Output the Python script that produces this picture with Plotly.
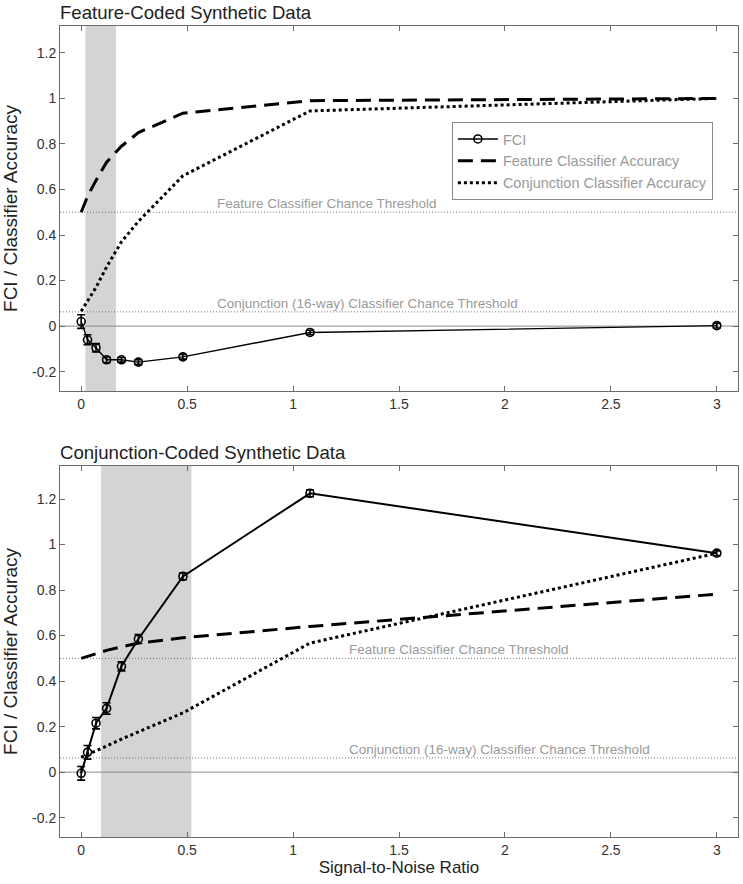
import plotly.graph_objects as go
from plotly.subplots import make_subplots

# ---- data ----
snr = [0, 0.03, 0.07, 0.12, 0.19, 0.27, 0.48, 1.08, 3.0]

feat_fci = [0.02, -0.06, -0.095, -0.148, -0.148, -0.158, -0.135, -0.028, 0.002]
feat_fci_err = [0.03, 0.022, 0.018, 0.012, 0.01, 0.01, 0.01, 0.01, 0.01]
feat_feature_acc = [0.5, 0.57, 0.64, 0.72, 0.79, 0.85, 0.935, 0.99, 1.0]
feat_conj_acc = [0.065, 0.11, 0.17, 0.26, 0.37, 0.46, 0.66, 0.945, 1.0]

conj_fci = [-0.005, 0.087, 0.215, 0.28, 0.465, 0.585, 0.86, 1.225, 0.962]
conj_fci_err = [0.03, 0.03, 0.025, 0.025, 0.02, 0.02, 0.015, 0.015, 0.01]
conj_feature_acc = [0.5, 0.51, 0.52, 0.535, 0.55, 0.567, 0.59, 0.64, 0.782]
conj_conj_acc = [0.065, 0.08, 0.093, 0.115, 0.145, 0.177, 0.26, 0.567, 0.962]

feature_chance = 0.5
conj_chance = 0.0625

shade_top = [0.02, 0.164]
shade_bottom = [0.094, 0.52]

panel_titles = ["Feature-Coded Synthetic Data", "Conjunction-Coded Synthetic Data"]
x_ticks = [0, 0.5, 1, 1.5, 2, 2.5, 3]
x_ticktext = ["0", "0.5", "1", "1.5", "2", "2.5", "3"]
y_ticks = [-0.2, 0, 0.2, 0.4, 0.6, 0.8, 1.0, 1.2]
y_ticktext = ["-0.2", "0", "0.2", "0.4", "0.6", "0.8", "1", "1.2"]
legend_names = ["FCI", "Feature Classifier Accuracy", "Conjunction Classifier Accuracy"]
chance_labels = ["Feature Classifier Chance Threshold", "Conjunction (16-way) Classifier Chance Threshold"]

FONT = "Liberation Sans, Arial, sans-serif"
AXIS_COLOR = "#6b6b6b"
TEXT_GRAY = "#9a9a9a"

fig = make_subplots(rows=2, cols=1, vertical_spacing=0.09)

H = 884
mt, mb = 25, 47
plot_h = H - mt - mb
def dom(top_px, bot_px):
    return [(H - mb - bot_px) / plot_h, (H - mb - top_px) / plot_h]

panels = [
    dict(row=1, fci=feat_fci, err=feat_fci_err, fa=feat_feature_acc, ca=feat_conj_acc,
         shade=shade_top, yr=[-0.285, 1.318], dom=dom(26, 391), lx=0.633, show=True, fw=1.4),
    dict(row=2, fci=conj_fci, err=conj_fci_err, fa=conj_feature_acc, ca=conj_conj_acc,
         shade=shade_bottom, yr=[-0.285, 1.345], dom=dom(466, 837), lx=1.256, show=False, fw=2),
]

for p in panels:
    r = p["row"]
    fig.add_trace(go.Scatter(
        x=snr, y=p["fa"], mode="lines", name=legend_names[1],
        line=dict(color="black", width=3, dash="15px,8px"),
        showlegend=p["show"], legendrank=2), row=r, col=1)
    fig.add_trace(go.Scatter(
        x=snr, y=p["ca"], mode="lines", name=legend_names[2],
        line=dict(color="black", width=3, dash="3px,3px"),
        showlegend=p["show"], legendrank=3), row=r, col=1)
    fig.add_trace(go.Scatter(
        x=snr, y=p["fci"], mode="lines+markers", name=legend_names[0],
        line=dict(color="black", width=p["fw"]),
        marker=dict(symbol="circle-open", size=8, color="black", line=dict(width=1.6)),
        error_y=dict(type="data", array=p["err"], visible=True, color="black",
                     thickness=1.6, width=4),
        showlegend=p["show"], legendrank=1), row=r, col=1)

    xref = "x" if r == 1 else "x2"
    yref = "y" if r == 1 else "y2"
    fig.add_shape(type="rect", xref=xref, yref=yref + " domain",
                  x0=p["shade"][0], x1=p["shade"][1], y0=0, y1=1,
                  fillcolor="#d3d4d6", line_width=0, layer="below")
    fig.add_shape(type="line", xref=xref + " domain", yref=yref, x0=0, x1=1, y0=0, y1=0,
                  line=dict(color="#8a8a8a", width=1), layer="below")
    for yv in (feature_chance, conj_chance):
        fig.add_shape(type="line", xref=xref + " domain", yref=yref, x0=0, x1=1, y0=yv, y1=yv,
                      line=dict(color="#777777", width=1, dash="1px,2px"), layer="below")
    fig.add_annotation(x=p["lx"], y=feature_chance, xref=xref, yref=yref, text=chance_labels[0],
                       showarrow=False, xanchor="left", yanchor="bottom", yshift=-1,
                       font=dict(size=13.5, color=TEXT_GRAY, family=FONT))
    fig.add_annotation(x=p["lx"], y=conj_chance, xref=xref, yref=yref, text=chance_labels[1],
                       showarrow=False, xanchor="left", yanchor="bottom", yshift=-1,
                       font=dict(size=13.5, color=TEXT_GRAY, family=FONT))
    fig.add_annotation(x=0, y=1, xref=xref + " domain", yref=yref + " domain", text=panel_titles[r - 1],
                       showarrow=False, xanchor="left", yanchor="bottom", yshift=1, xshift=-2,
                       font=dict(size=18.6, color="#222222", family=FONT))

    fig.update_xaxes(row=r, col=1, range=[-0.1, 3.1], tickvals=x_ticks, ticktext=x_ticktext,
                     ticks="inside", ticklen=5, tickcolor=AXIS_COLOR, showline=True,
                     linecolor=AXIS_COLOR, linewidth=1, mirror="ticks", showgrid=False,
                     zeroline=False, automargin=False,
                     tickfont=dict(size=14, color="#333333", family=FONT))
    fig.update_yaxes(row=r, col=1, range=p["yr"], domain=p["dom"], tickvals=y_ticks, ticktext=y_ticktext,
                     ticks="inside", ticklen=5, tickcolor=AXIS_COLOR, showline=True,
                     linecolor=AXIS_COLOR, linewidth=1, mirror="ticks", showgrid=False,
                     zeroline=False, automargin=False,
                     tickfont=dict(size=14, color="#333333", family=FONT),
                     title=dict(text="FCI / Classifier Accuracy", standoff=10,
                                font=dict(size=19, color="#222222", family=FONT)))

fig.update_xaxes(row=2, col=1, title=dict(text="Signal-to-Noise Ratio", standoff=2,
                                          font=dict(size=17, color="#222222", family=FONT)))

fig.update_layout(
    width=743, height=884,
    margin=dict(l=60, r=5, t=mt, b=mb, autoexpand=False),
    paper_bgcolor="white", plot_bgcolor="white",
    font=dict(family=FONT),
    legend=dict(x=0.578, y=0.8805, xanchor="left", yanchor="top",
                bordercolor="#888888", borderwidth=1, bgcolor="white",
                font=dict(size=14.5, color=TEXT_GRAY, family=FONT),
                tracegroupgap=0, itemwidth=40),
    showlegend=True,
)

fig.write_html("out.html", config={"displayModeBar": False},
               post_script="document.body.style.margin='0';document.body.style.overflow='hidden';")
